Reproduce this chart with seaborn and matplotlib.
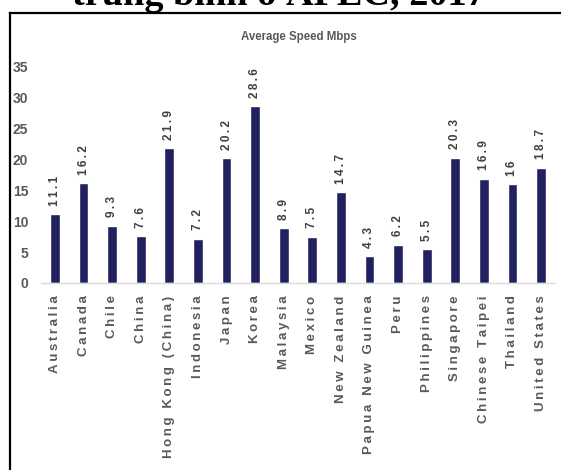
import matplotlib
matplotlib.use("Agg")
import matplotlib.pyplot as plt
import seaborn as sns
import pandas as pd
from matplotlib.lines import Line2D

economies = ["Australia", "Canada", "Chile", "China", "Hong Kong (China)", "Indonesia",
             "Japan", "Korea", "Malaysia", "Mexico", "New Zealand", "Papua New Guinea",
             "Peru", "Philippines", "Singapore", "Chinese Taipei", "Thailand", "United States"]
speeds = [11.1, 16.2, 9.3, 7.6, 21.9, 7.2, 20.2, 28.6, 8.9, 7.5, 14.7, 4.3, 6.2, 5.5,
          20.3, 16.9, 16, 18.7]
value_labels = ["11.1", "16.2", "9.3", "7.6", "21.9", "7.2", "20.2", "28.6", "8.9", "7.5",
                "14.7", "4.3", "6.2", "5.5", "20.3", "16.9", "16", "18.7"]
y_ticks = [0, 5, 10, 15, 20, 25, 30, 35]
chart_title = "Average Speed Mbps"
page_title = "trung bình ở APEC, 2017"

sns.set_style("white")
plt.rcParams['font.family'] = ['Liberation Sans', 'DejaVu Sans']

NAVY = "#22215F"
GRAY = "#595959"
DARK = "#404040"

def spaced(s, sep="\u2009"):
    return sep.join(list(s))

df = pd.DataFrame({"economy": economies, "speed": speeds})

fig = plt.figure(figsize=(5.61, 4.70), dpi=100)
ax = fig.add_axes([40.7 / 561, 1 - 283 / 470, (555.3 - 40.7) / 561, (283 - 67) / 470])

sns.barplot(data=df, x="economy", y="speed", color=NAVY, saturation=1, width=0.34, ax=ax)
ax.set_xlim(-0.5, len(economies) - 0.5)
ax.set_ylim(0, 35)
ax.set_yticks(y_ticks)
ax.set_yticklabels([str(t) for t in y_ticks], fontweight='bold', fontsize=10, color=GRAY)
ax.set_xticks(range(len(economies)))
ax.set_xticklabels([spaced(e, "\u2009") for e in economies], rotation=90, va='top',
                   ha='center', fontweight='bold', fontsize=9.5, color=GRAY)
ax.tick_params(axis='both', length=0)
ax.tick_params(axis='x', pad=9)
ax.tick_params(axis='y', pad=9)
ax.set_xlabel("")
ax.set_ylabel("")
for s in ["left", "right", "top"]:
    ax.spines[s].set_visible(False)
ax.spines["bottom"].set_color("#D9D9D9")
ax.spines["bottom"].set_linewidth(1.0)
ax.grid(False)

ax.bar_label(ax.containers[0], labels=[spaced(v, "\u2009") for v in value_labels],
             rotation=90, padding=6, fontsize=8.5, fontweight='bold', color=DARK)

fig.text(299 / 561, 1 - 36.7 / 470, chart_title, ha='center', va='center',
         fontweight='bold', fontsize=8.3, color=GRAY)

fig.text(278.5 / 561, 1 - 5 / 470, page_title, ha='center', va='baseline',
         family=['Liberation Serif', 'DejaVu Serif'], fontweight='bold', fontsize=27.5,
         color='black')

fig.add_artist(Line2D([10 / 561, 10 / 561], [-0.05, 1 - 13 / 470], transform=fig.transFigure,
                      color='black', linewidth=1.6, solid_capstyle='projecting'))
fig.add_artist(Line2D([10 / 561, 1.05], [1 - 13 / 470, 1 - 13 / 470], transform=fig.transFigure,
                      color='black', linewidth=1.6, solid_capstyle='projecting'))

fig.savefig("out.png", dpi=100)
